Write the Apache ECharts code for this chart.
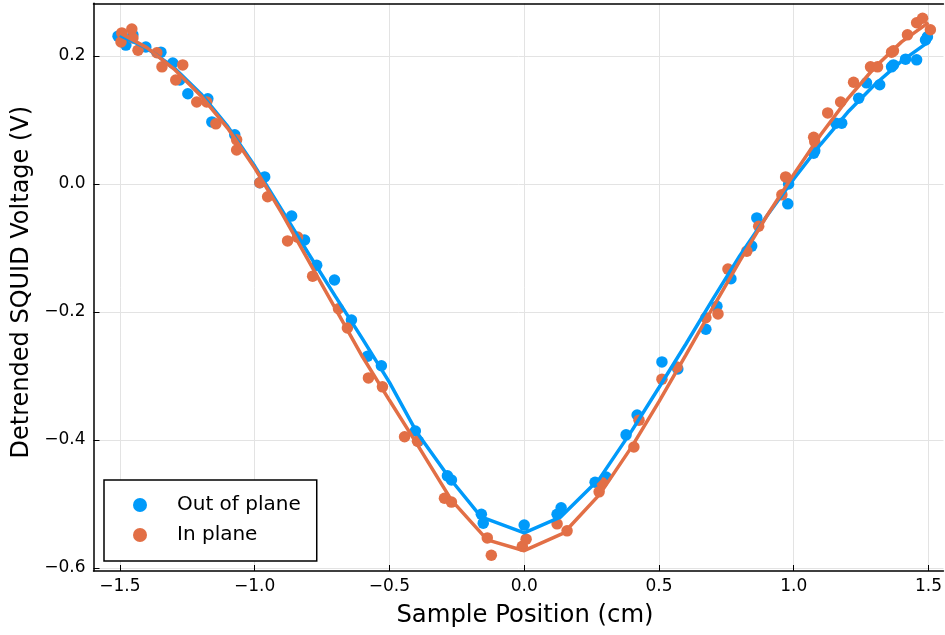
<!DOCTYPE html>
<html>
<head>
<meta charset="utf-8">
<script src="https://cdn.jsdelivr.net/npm/echarts@6/dist/echarts.min.js"></script>
<style>html,body{margin:0;padding:0;background:#fff;}#c{width:945px;height:635px;}</style>
</head>
<body>
<div id="c"></div>
<script>
const outX = [-1.507,-1.478,-1.452,-1.404,-1.348,-1.304,-1.278,-1.248,-1.174,-1.159,-1.074,-0.963,-0.981,-0.863,-0.815,-0.770,-0.704,-0.641,-0.581,-0.530,-0.404,-0.393,-0.285,-0.270,-0.159,-0.152,0.000,0.122,0.137,0.263,0.304,0.378,0.419,0.511,0.570,0.674,0.715,0.767,0.844,0.863,0.978,0.981,1.074,1.078,1.156,1.178,1.241,1.270,1.319,1.363,1.370,1.415,1.456,1.489,1.496];
const outY = [0.231,0.217,0.233,0.214,0.206,0.189,0.1625,0.141,0.133,0.097,0.077,0.011,0.002,-0.050,-0.0875,-0.127,-0.150,-0.2125,-0.269,-0.284,-0.386,-0.402,-0.456,-0.4625,-0.516,-0.530,-0.533,-0.516,-0.506,-0.466,-0.458,-0.392,-0.361,-0.278,-0.289,-0.227,-0.191,-0.148,-0.097,-0.053,-0.031,0.000,0.048,0.052,0.095,0.095,0.134,0.158,0.155,0.183,0.186,0.195,0.194,0.225,0.230];
const inX = [-1.493,-1.456,-1.496,-1.452,-1.433,-1.363,-1.344,-1.293,-1.267,-1.215,-1.178,-1.144,-1.067,-1.067,-0.981,-0.952,-0.878,-0.841,-0.785,-0.689,-0.656,-0.578,-0.526,-0.444,-0.396,-0.296,-0.270,-0.137,-0.122,-0.007,0.007,0.122,0.159,0.278,0.289,0.407,0.426,0.511,0.567,0.674,0.719,0.756,0.826,0.870,0.956,0.970,1.074,1.078,1.126,1.174,1.222,1.285,1.311,1.363,1.370,1.422,1.456,1.478,1.507];
const inY = [0.236,0.242,0.222,0.228,0.209,0.205,0.183,0.1625,0.186,0.128,0.128,0.094,0.069,0.053,0.002,-0.020,-0.089,-0.083,-0.144,-0.195,-0.225,-0.303,-0.317,-0.395,-0.402,-0.491,-0.497,-0.553,-0.580,-0.566,-0.555,-0.531,-0.542,-0.481,-0.467,-0.411,-0.369,-0.305,-0.286,-0.209,-0.203,-0.133,-0.105,-0.066,-0.017,0.011,0.073,0.066,0.111,0.128,0.159,0.183,0.183,0.206,0.208,0.233,0.252,0.259,0.241];
const outFitX = [-1.5,-1.4,-1.3,-1.2,-1.1,-1.0,-0.9,-0.8,-0.7,-0.6,-0.5,-0.4,-0.278,-0.16,0,0.136,0.28,0.4,0.5,0.6,0.7,0.8,0.9,1.0,1.1,1.2,1.3,1.4,1.5];
const outFitY = [0.232,0.212,0.182,0.141,0.090,0.028,-0.040,-0.109,-0.176,-0.242,-0.310,-0.387,-0.459,-0.520,-0.545,-0.520,-0.460,-0.385,-0.318,-0.250,-0.180,-0.112,-0.050,0.008,0.062,0.112,0.155,0.192,0.222];
const inFitX = [-1.5,-1.4,-1.3,-1.2,-1.1,-1.0,-0.9,-0.8,-0.7,-0.6,-0.5,-0.4,-0.27,-0.137,0,0.148,0.28,0.4,0.5,0.6,0.7,0.8,0.9,1.0,1.1,1.2,1.3,1.4,1.5];
const inFitY = [0.236,0.213,0.180,0.138,0.087,0.025,-0.045,-0.120,-0.195,-0.270,-0.338,-0.405,-0.494,-0.556,-0.573,-0.545,-0.485,-0.410,-0.340,-0.267,-0.193,-0.120,-0.050,0.015,0.077,0.133,0.182,0.222,0.252];
const xTicks = [-1.5,-1.0,-0.5,0.0,0.5,1.0,1.5];
const yTicks = [-0.6,-0.4,-0.2,0.0,0.2];

const BLUE = '#009AFA', ORANGE = '#E26F46';
const zip = (a,b) => a.map((v,i)=>[v,b[i]]);
const fmtNum = v => { const s = Number(v).toFixed(1); return s.replace('-', '\u2212'); };
const FONT = 'DejaVu Sans';

const chart = echarts.init(document.getElementById('c'), null, {renderer:'canvas'});
chart.setOption({
  animation: false,
  backgroundColor: '#fff',
  textStyle: {fontFamily: FONT},
  grid: {left: 93.5, right: 0, top: 3.3, bottom: 64, containLabel: false},
  legend: {
    data: ['Out of plane','In plane'],
    orient: 'vertical',
    left: 104, top: 480,
    icon: 'circle', itemWidth: 14, itemHeight: 14, itemGap: 10,
    padding: [15, 16, 16, 29],
    borderColor: '#000', borderWidth: 1.5, backgroundColor: '#fff',
    textStyle: {fontFamily: FONT, fontSize: 20, color: '#000', padding: [0,0,0,25]}
  },
  xAxis: [{
    type: 'value', min: -1.5981, max: 1.5556,
    name: 'Sample Position (cm)', nameLocation: 'middle', nameGap: 33,
    nameTextStyle: {fontFamily: FONT, fontSize: 24.3, color: '#000', padding: [0,0,0,13]},
    axisLine: {show: true, onZero: false, lineStyle: {color: '#000', width: 1.5}},
    axisTick: {show: true, inside: true, length: 6, customValues: xTicks, lineStyle: {color: '#000', width: 1}},
    axisLabel: {customValues: xTicks, formatter: fmtNum, fontFamily: FONT, fontSize: 17, color: '#000', margin: 7},
    splitLine: {show: true, lineStyle: {color: '#e3e3e3', width: 1}}
  },{
    type: 'value', position: 'top', min: -1.5981, max: 1.5556,
    axisLine: {show: true, onZero: false, lineStyle: {color: '#000', width: 1.5}},
    axisTick: {show: false}, axisLabel: {show: false}, splitLine: {show: false}
  }],
  yAxis: {
    type: 'value', min: -0.6047, max: 0.2823,
    name: 'Detrended SQUID Voltage (V)', nameLocation: 'middle', nameGap: 60,
    nameTextStyle: {fontFamily: FONT, fontSize: 24, color: '#000', padding: [0,0,0,10]},
    axisLine: {show: true, onZero: false, lineStyle: {color: '#000', width: 1.5}},
    axisTick: {show: true, inside: true, length: 6, customValues: yTicks, lineStyle: {color: '#000', width: 1}},
    axisLabel: {customValues: yTicks, formatter: fmtNum, fontFamily: FONT, fontSize: 17, color: '#000', margin: 8},
    splitLine: {show: true, lineStyle: {color: '#e3e3e3', width: 1}}
  },
  series: [
    {name: 'Out of plane', type: 'scatter', data: zip(outX,outY), symbol: 'circle', symbolSize: 11.5, itemStyle: {color: BLUE, opacity: 1}, z: 2},
    {name: 'In plane', type: 'scatter', data: zip(inX,inY), symbol: 'circle', symbolSize: 11.5, itemStyle: {color: ORANGE, opacity: 1}, z: 2},
    {name: 'Out fit', type: 'line', data: zip(outFitX,outFitY), showSymbol: false, lineStyle: {color: BLUE, width: 3.5}, itemStyle: {color: BLUE}, z: 3},
    {name: 'In fit', type: 'line', data: zip(inFitX,inFitY), showSymbol: false, lineStyle: {color: ORANGE, width: 3.5}, itemStyle: {color: ORANGE}, z: 3}
  ]
});
</script>
</body>
</html>
